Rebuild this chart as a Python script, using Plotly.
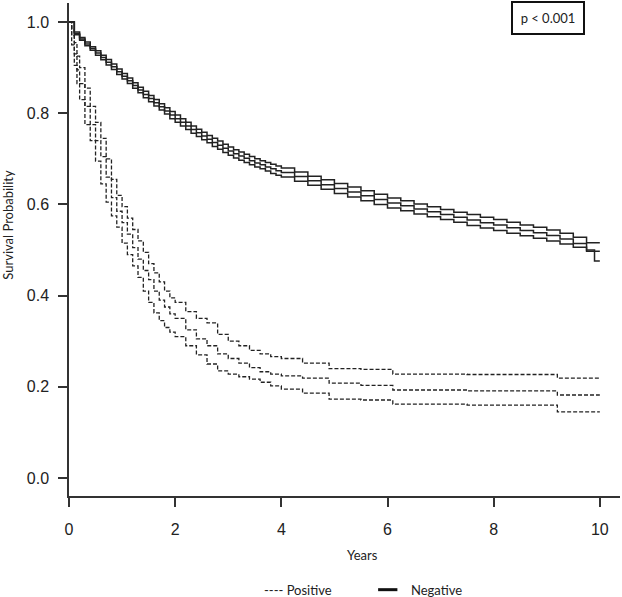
import plotly.graph_objects as go

# Kaplan-Meier estimates (years, survival probability)
neg_years = [0, 0.1, 0.2, 0.3, 0.4, 0.5, 0.6, 0.7, 0.8, 0.9,
             1.0, 1.1, 1.2, 1.3, 1.4, 1.5, 1.6, 1.7, 1.8, 1.9,
             2.0, 2.1, 2.2, 2.3, 2.4, 2.5, 2.6, 2.7, 2.8, 2.9,
             3.0, 3.1, 3.2, 3.3, 3.4, 3.5, 3.6, 3.7, 3.8, 3.9,
             4.0, 4.25, 4.5, 4.75, 5.0, 5.25, 5.5, 5.75, 6.0, 6.25, 6.5, 6.75,
             7.0, 7.25, 7.5, 7.75, 8.0, 8.25, 8.5, 8.75, 9.0, 9.25, 9.5, 9.75, 9.9, 10.0]
neg_surv = [1.0, 0.975, 0.963, 0.952, 0.942, 0.932, 0.922, 0.912, 0.902, 0.891,
            0.881, 0.871, 0.861, 0.851, 0.841, 0.832, 0.823, 0.814, 0.805, 0.796,
            0.788, 0.780, 0.772, 0.764, 0.757, 0.750, 0.743, 0.736, 0.730, 0.723,
            0.717, 0.711, 0.706, 0.701, 0.696, 0.691, 0.687, 0.682, 0.678, 0.674,
            0.670, 0.661, 0.652, 0.643, 0.635, 0.627, 0.619, 0.611, 0.603, 0.597, 0.590, 0.584,
            0.578, 0.572, 0.566, 0.560, 0.555, 0.549, 0.543, 0.538, 0.532, 0.524, 0.514, 0.497,
            0.497, 0.497]
neg_upper = [1.0, 0.978, 0.966, 0.956, 0.946, 0.937, 0.927, 0.918, 0.908, 0.897,
             0.887, 0.877, 0.867, 0.857, 0.848, 0.839, 0.830, 0.821, 0.812, 0.804,
             0.796, 0.788, 0.780, 0.772, 0.765, 0.758, 0.751, 0.745, 0.739, 0.732,
             0.726, 0.720, 0.715, 0.710, 0.705, 0.700, 0.696, 0.692, 0.688, 0.684,
             0.680, 0.671, 0.662, 0.654, 0.646, 0.638, 0.630, 0.622, 0.614, 0.608, 0.601, 0.595,
             0.589, 0.583, 0.578, 0.572, 0.567, 0.561, 0.555, 0.550, 0.544, 0.537, 0.528, 0.516,
             0.516, 0.516]
neg_lower = [1.0, 0.972, 0.960, 0.948, 0.938, 0.927, 0.917, 0.906, 0.896, 0.885,
             0.875, 0.865, 0.855, 0.845, 0.834, 0.825, 0.816, 0.807, 0.798, 0.788,
             0.780, 0.772, 0.764, 0.756, 0.749, 0.742, 0.735, 0.727, 0.721, 0.714,
             0.708, 0.702, 0.697, 0.692, 0.687, 0.682, 0.678, 0.673, 0.668, 0.664,
             0.660, 0.651, 0.642, 0.633, 0.624, 0.616, 0.608, 0.600, 0.592, 0.586, 0.579, 0.573,
             0.567, 0.561, 0.554, 0.548, 0.543, 0.537, 0.531, 0.526, 0.520, 0.513, 0.506, 0.500,
             0.476, 0.476]

pos_years = [0, 0.05, 0.1, 0.15, 0.2, 0.3, 0.4, 0.5, 0.6, 0.7, 0.8, 0.9, 1.0, 1.1, 1.2, 1.3,
             1.4, 1.5, 1.6, 1.7, 1.8, 1.9, 2.0, 2.2, 2.4, 2.6, 2.8, 3.0, 3.2, 3.4, 3.6, 3.8,
             4.0, 4.4, 4.9, 5.5, 6.1, 7.5, 9.2, 10.0]
pos_surv = [1.0, 0.97, 0.93, 0.895, 0.865, 0.815, 0.775, 0.74, 0.705, 0.66, 0.615, 0.585, 0.56,
            0.535, 0.505, 0.48, 0.455, 0.435, 0.41, 0.39, 0.375, 0.36, 0.35, 0.325, 0.305, 0.29,
            0.272, 0.262, 0.252, 0.242, 0.233, 0.228, 0.224, 0.219, 0.208, 0.203, 0.193, 0.191,
            0.182, 0.182]
pos_upper = [1.0, 0.985, 0.955, 0.925, 0.9, 0.855, 0.815, 0.78, 0.745, 0.7, 0.655, 0.62, 0.595,
             0.57, 0.545, 0.52, 0.495, 0.47, 0.45, 0.43, 0.41, 0.395, 0.385, 0.365, 0.35, 0.34,
             0.315, 0.3, 0.29, 0.28, 0.272, 0.266, 0.262, 0.252, 0.24, 0.238, 0.228, 0.227,
             0.219, 0.219]
pos_lower = [1.0, 0.95, 0.905, 0.865, 0.83, 0.775, 0.74, 0.695, 0.645, 0.605, 0.575, 0.55,
             0.515, 0.49, 0.465, 0.44, 0.41, 0.385, 0.362, 0.345, 0.33, 0.32, 0.31, 0.29, 0.27,
             0.25, 0.235, 0.228, 0.222, 0.217, 0.21, 0.202, 0.195, 0.186, 0.173, 0.171, 0.162,
             0.16, 0.145, 0.145]

x_ticks = [0, 2, 4, 6, 8, 10]
y_ticks = [0.0, 0.2, 0.4, 0.6, 0.8, 1.0]

INK = "#222222"
fig = go.Figure()

for ys in [pos_upper, pos_surv, pos_lower]:
    fig.add_trace(go.Scatter(x=pos_years, y=ys, mode="lines", line_shape="hv",
                             line=dict(color=INK, width=1.3, dash="4px,2px"),
                             showlegend=False, hoverinfo="skip"))
for ys in [neg_upper, neg_surv, neg_lower]:
    fig.add_trace(go.Scatter(x=neg_years, y=ys, mode="lines", line_shape="hv",
                             line=dict(color=INK, width=1.5),
                             showlegend=False, hoverinfo="skip"))

axis_font = dict(family="Liberation Sans, Arial", size=16, color=INK)
fig.update_xaxes(range=[0, 10.38], tickvals=x_ticks, ticks="outside", ticklen=9,
                 tickwidth=1.5, tickcolor="#333", showline=True, linecolor="#333",
                 linewidth=1.5, showgrid=False, zeroline=False, tickfont=axis_font,
                 ticklabelstandoff=9, automargin=False)
fig.update_yaxes(range=[-0.0395, 1.0417], tickvals=y_ticks, tickformat=".1f",
                 ticks="outside", ticklen=9, tickwidth=1.5, tickcolor="#333",
                 showline=True, linecolor="#333", linewidth=1.5, showgrid=False,
                 zeroline=False, tickfont=axis_font, ticklabelstandoff=6, automargin=False)

label_font = dict(family="Lato, Open Sans", size=13, color=INK)
fig.add_annotation(text="Survival Probability", textangle=-90, xref="paper", yref="paper",
                   x=-0.111, y=0.55, xanchor="center", yanchor="middle",
                   showarrow=False, font=label_font)
fig.add_annotation(text="Years", xref="paper", yref="paper", x=0.532, y=-0.12,
                   xanchor="center", yanchor="middle", showarrow=False, font=label_font)
fig.add_annotation(text="p < 0.001", xref="paper", yref="paper", x=0.869, y=0.97,
                   xanchor="center", yanchor="middle", showarrow=False, font=label_font,
                   bordercolor="#111", borderwidth=2, borderpad=3, width=64, height=24,
                   bgcolor="white")

# legend drawn by hand, as in the original
fig.add_annotation(text="---- Positive", xref="paper", yref="paper", x=0.35, y=-0.19,
                   xanchor="left", yanchor="middle", showarrow=False, font=label_font)
fig.add_shape(type="line", xref="paper", yref="paper", x0=0.561, x1=0.596,
              y0=-0.19, y1=-0.19, line=dict(color="#111", width=3))
fig.add_annotation(text="Negative", xref="paper", yref="paper", x=0.617, y=-0.19,
                   xanchor="left", yanchor="middle", showarrow=False, font=label_font)

fig.update_layout(width=622, height=597, margin=dict(l=69, r=2, t=3, b=101, autoexpand=False),
                  plot_bgcolor="white", paper_bgcolor="white", showlegend=False)

# drop the browser's default 8px page margin so the figure sits at the window corner
fig.write_html("out.html", config={"displayModeBar": False},
               post_script="document.body.style.margin='0';")
